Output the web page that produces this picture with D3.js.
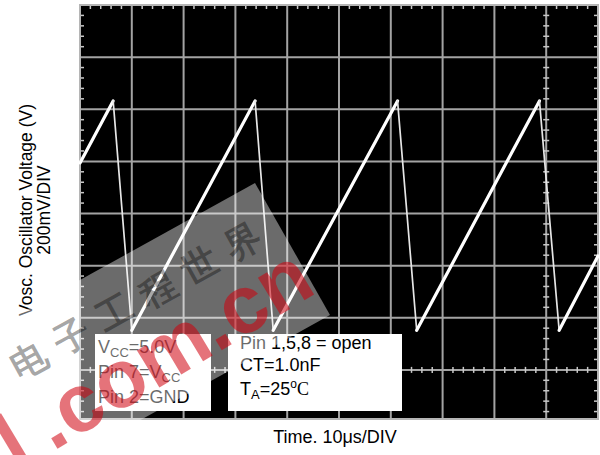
<!DOCTYPE html>
<html>
<head>
<meta charset="utf-8">
<script src="https://cdn.jsdelivr.net/npm/d3@7/dist/d3.min.js"></script>
<style>
  html, body { margin: 0; padding: 0; background: #fff; }
  svg { display: block; }
  text { font-family: "Liberation Sans", Arial, sans-serif; }
</style>
</head>
<body>
<svg id="chart" width="600" height="455"></svg>
<script>
// ---- data ----
const timeDomain = [0, 100];          // µs, 10 µs/DIV, 10 divisions
const voltDomain = [0, 1600];         // mV above screen bottom, 200 mV/DIV, 8 divisions
const traceTime = [0, 6.4, 10.0, 33.8, 37.3, 61.3, 65.0, 88.7, 92.5, 100];
const traceVolt = [994, 1232, 352, 1232, 352, 1232, 352, 1232, 352, 637];
const yLabelLines = ["Vosc. Oscillator Voltage (V)", "200mV/DIV"];
const xLabel = "Time. 10\u03bcs/DIV";
const watermarkCJK = "电子工程世界";
const watermarkLatin = ["l", ".com.cn"];

(function () {
// ---- layout ----
const svg = d3.select("#chart");
const scrLeft = 80, scrRight = 598, scrTop = 5, scrBottom = 419;
const x = d3.scaleLinear().domain(timeDomain).range([scrLeft, scrRight]);
const y = d3.scaleLinear().domain(voltDomain).range([422, scrTop]);

// screen
svg.append("rect").attr("x", scrLeft).attr("y", scrTop)
  .attr("width", scrRight - scrLeft).attr("height", scrBottom - scrTop)
  .attr("fill", "#000");

const gridColor = "#a3a3a3";
const g = svg.append("g");
// vertical grid lines
g.append("g").selectAll("line").data(d3.range(10, 100, 10)).join("line")
  .attr("x1", d => x(d)).attr("x2", d => x(d))
  .attr("y1", scrTop).attr("y2", scrBottom)
  .attr("stroke", gridColor).attr("stroke-width", 2);
// horizontal grid lines
g.append("g").selectAll("line").data(d3.range(200, 1600, 200)).join("line")
  .attr("x1", scrLeft).attr("x2", scrRight)
  .attr("y1", d => y(d)).attr("y2", d => y(d))
  .attr("stroke", gridColor).attr("stroke-width", 2);
// border
svg.append("rect").attr("x", scrLeft).attr("y", scrTop)
  .attr("width", scrRight - scrLeft).attr("height", scrBottom - scrTop)
  .attr("fill", "none").attr("stroke", "#b5b5b5").attr("stroke-width", 2);

// minor ticks (5 per division)
const tickColor = "#c8c8c8";
const minorT = d3.range(2, 100, 2).filter(d => d % 10 !== 0);
const minorV = d3.range(40, 1600, 40).filter(d => d % 200 !== 0 && y(d) > scrTop + 2 && y(d) < scrBottom - 2);
g.append("g").selectAll("line").data(minorT).join("line")
  .attr("x1", d => x(d)).attr("x2", d => x(d)).attr("y1", scrTop).attr("y2", scrTop + 4)
  .attr("stroke", tickColor).attr("stroke-width", 1.5);
g.append("g").selectAll("line").data(minorT).join("line")
  .attr("x1", d => x(d)).attr("x2", d => x(d)).attr("y1", y(200) - 3).attr("y2", y(200) + 3)
  .attr("stroke", tickColor).attr("stroke-width", 1.5);
g.append("g").selectAll("line").data(minorV).join("line")
  .attr("x1", scrLeft).attr("x2", scrLeft + 4).attr("y1", d => y(d)).attr("y2", d => y(d))
  .attr("stroke", tickColor).attr("stroke-width", 1.5);
g.append("g").selectAll("line").data(minorV).join("line")
  .attr("x1", scrRight - 4).attr("x2", scrRight).attr("y1", d => y(d)).attr("y2", d => y(d))
  .attr("stroke", tickColor).attr("stroke-width", 1.5);
g.append("g").selectAll("line").data(minorV).join("line")
  .attr("x1", x(90) - 3).attr("x2", x(90) + 3).attr("y1", d => y(d)).attr("y2", d => y(d))
  .attr("stroke", tickColor).attr("stroke-width", 1.5);

// trace
const pts = traceTime.map((t, i) => ({ t, v: traceVolt[i] }));
const segs = d3.pairs(pts);
const line = d3.line().x(d => x(d.t)).y(d => y(d.v));
svg.append("g").selectAll("path").data(segs).join("path")
  .attr("d", d => line(d))
  .attr("fill", "none")
  .attr("stroke", d => d[1].v > d[0].v ? "#ffffff" : "#e6e6e6")
  .attr("stroke-width", d => d[1].v > d[0].v ? 3.2 : 1.7)
  .attr("stroke-linecap", "round").attr("stroke-linejoin", "round");

// axis labels
svg.append("text").attr("transform", "translate(32,210) rotate(-90)")
  .attr("text-anchor", "middle").attr("font-size", 17.5).attr("fill", "#000")
  .text(yLabelLines[0]);
svg.append("text").attr("transform", "translate(50,210) rotate(-90)")
  .attr("text-anchor", "middle").attr("font-size", 17.5).attr("fill", "#000")
  .text(yLabelLines[1]);
svg.append("text").attr("x", 335).attr("y", 443)
  .attr("text-anchor", "middle").attr("font-size", 18).attr("fill", "#000")
  .text(xLabel);

// annotation boxes
svg.append("rect").attr("x", 95).attr("y", 334).attr("width", 116).attr("height", 77).attr("fill", "#fff");
svg.append("rect").attr("x", 228).attr("y", 334).attr("width", 174).attr("height", 77).attr("fill", "#fff");

function richText(xp, yp, parts) {
  const t = svg.append("text").attr("x", xp).attr("y", yp).attr("font-size", 18).attr("fill", "#000");
  parts.forEach(p => {
    const s = t.append("tspan").text(p.s);
    if (p.sub) s.attr("font-size", 13).attr("dy", 4);
    if (p.sup) s.attr("font-size", 12).attr("dy", -7);
    if (p.back) s.attr("dy", p.back);
    if (p.serif) s.attr("font-family", "'Liberation Serif', 'Times New Roman', serif");
  });
  return t;
}
richText(98, 353, [{ s: "V" }, { s: "CC", sub: true }, { s: "=5.0V", back: -4 }]);
richText(98, 378, [{ s: "Pin 7=V" }, { s: "CC", sub: true }]);
richText(98, 403, [{ s: "Pin 2=GND" }]);
richText(240, 349, [{ s: "Pin 1,5,8 = open" }]);
richText(240, 371, [{ s: "CT=1.0nF" }]);
richText(240, 395, [{ s: "T" }, { s: "A", sub: true }, { s: "=25", back: -4 }, { s: "o", sup: true }, { s: "C", serif: true, back: 7 }]);

// watermark: translucent band
const A = [255, 183], B = [330, 315], dir = [-0.875, 0.485], L = 520;
const band = [A, B, [B[0] + L * dir[0], B[1] + L * dir[1]], [A[0] + L * dir[0], A[1] + L * dir[1]]];
svg.append("polygon").attr("points", band.map(p => p.join(",")).join(" "))
  .attr("fill", "#fff").attr("fill-opacity", 0.42);
// watermark: CJK characters
svg.append("text").attr("transform", "translate(13,369) rotate(-29)")
  .attr("font-family", "'Noto Sans CJK SC', sans-serif").attr("font-weight", 700)
  .attr("font-size", 36).attr("letter-spacing", 13).attr("dominant-baseline", "central")
  .attr("fill", "#000").attr("fill-opacity", 0.36)
  .text(watermarkCJK);
// watermark: red latin text
const wm = svg.append("text").attr("transform", "translate(17,473) rotate(-31)")
  .attr("font-family", "'Liberation Sans', Arial, sans-serif").attr("font-weight", 700)
  .attr("font-size", 82).attr("fill", "#d0000c").attr("fill-opacity", 0.55);
wm.append("tspan").text(watermarkLatin[0]);
wm.append("tspan").attr("dx", 19).text(watermarkLatin[1]);
})();
</script>
</body>
</html>
